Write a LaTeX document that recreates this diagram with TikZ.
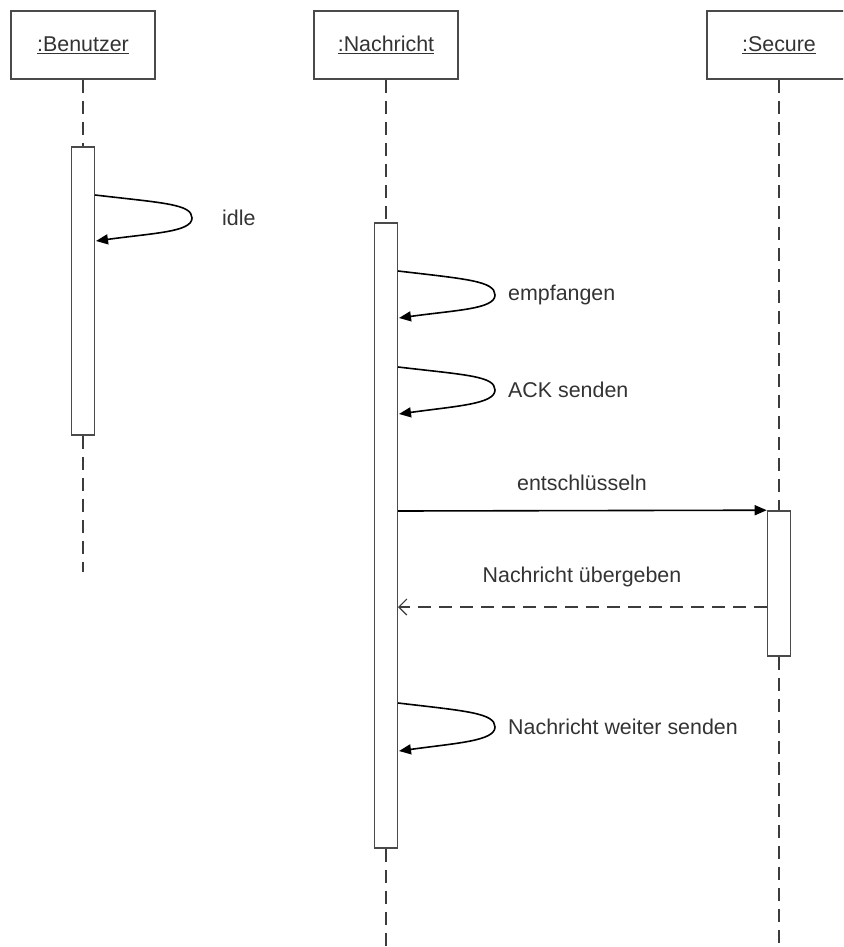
\documentclass[tikz,border=0pt]{standalone}
\usepackage{fontspec}
\setmainfont{Liberation Sans}
\usetikzlibrary{arrows.meta}
\definecolor{boxgray}{HTML}{4A4A4A}
\definecolor{linegray}{HTML}{3C3C3C}
\definecolor{txt}{HTML}{333333}
\begin{document}
\begin{tikzpicture}[x=1pt,y=-1pt,
  header/.style={draw=boxgray, line width=2pt, fill=white, minimum width=144pt,
    minimum height=68pt, inner sep=0pt, text=txt, font=\fontsize{21.4}{25}\selectfont},
  activation/.style={draw=boxgray, line width=1.6pt, fill=white, minimum width=23pt, inner sep=0pt},
  lifeline/.style={draw=linegray, line width=2pt, dash pattern=on 13pt off 8pt},
  selfmsg/.style={draw=black, line width=1.6pt, -{Triangle[length=12pt,width=10pt]}},
  callmsg/.style={draw=black, line width=1.6pt, -{Triangle[length=12pt,width=10pt]}},
  replymsg/.style={draw=linegray, line width=1.6pt, dash pattern=on 13pt off 8pt,
    -{Straight Barb[length=8pt,width=16pt,line width=1.2pt]}},
  lbl/.style={text=txt, inner sep=0pt, font=\fontsize{21.4}{25}\selectfont}
]
\useasboundingbox (0,0) rectangle (843,947);
\clip (0,0) rectangle (843,947);

% lifeline heads
\node[header] (hB) at (83,45) {\underline{:Benutzer}};
\node[header] (hN) at (386,45) {\underline{:Nachricht}};
\node[header] (hS) at (779,45) {\underline{:Secure}};

% lifeline ends
\coordinate (endB) at (83,572);
\coordinate (endN) at (386,947);
\coordinate (endS) at (779,947);

% activation bars
\node[activation, minimum height=288pt] (actB) at (83,291) {};
\node[activation, minimum height=625pt] (actN) at (386,535.5) {};
\node[activation, minimum height=145pt] (actS) at (779,583.5) {};

% dashed lifelines
\draw[lifeline] (hB.south) -- (actB.north);
\draw[lifeline] (actB.south) -- (endB);
\draw[lifeline] (hN.south) -- (actN.north);
\draw[lifeline] (actN.south) -- (endN);
\draw[lifeline] (hS.south) -- (actS.north);
\draw[lifeline] (actS.south) -- (endS);

% self messages
\coordinate (s1) at (95,195);  \coordinate (b1) at (192,218); \coordinate (e1) at (96,241);
\coordinate (s2) at (398,271); \coordinate (b2) at (495,295); \coordinate (e2) at (399,318);
\coordinate (s3) at (398,367); \coordinate (b3) at (495,390); \coordinate (e3) at (399,414);
\coordinate (s4) at (398,703); \coordinate (b4) at (495,727); \coordinate (e4) at (399,751);

\foreach \i in {1,2,3,4} {
  \draw[selfmsg] (s\i) .. controls +(68,8) and +(0,-14) .. (b\i)
                       .. controls +(0,14) and +(58,-8) .. (e\i);
}

\node[lbl, anchor=west] (l1) at (222,218) {idle};
\node[lbl, anchor=west] (l2) at (508,295) {empfangen};
\node[lbl, anchor=west] (l3) at (508,390) {ACK senden};
\node[lbl, anchor=west] (l4) at (508,727) {Nachricht weiter senden};

% call and reply
\coordinate (c1) at (398,511);
\coordinate (r1) at (767,607);
\coordinate (r2) at (398,607);
\draw[callmsg] (c1) -- (actS.north west);
\draw[replymsg] (r1) -- (r2);
\node[lbl] (l5) at (582,483) {entschlüsseln};
\node[lbl] (l6) at (582,577) {Nachricht übergeben};
\end{tikzpicture}
\end{document}
